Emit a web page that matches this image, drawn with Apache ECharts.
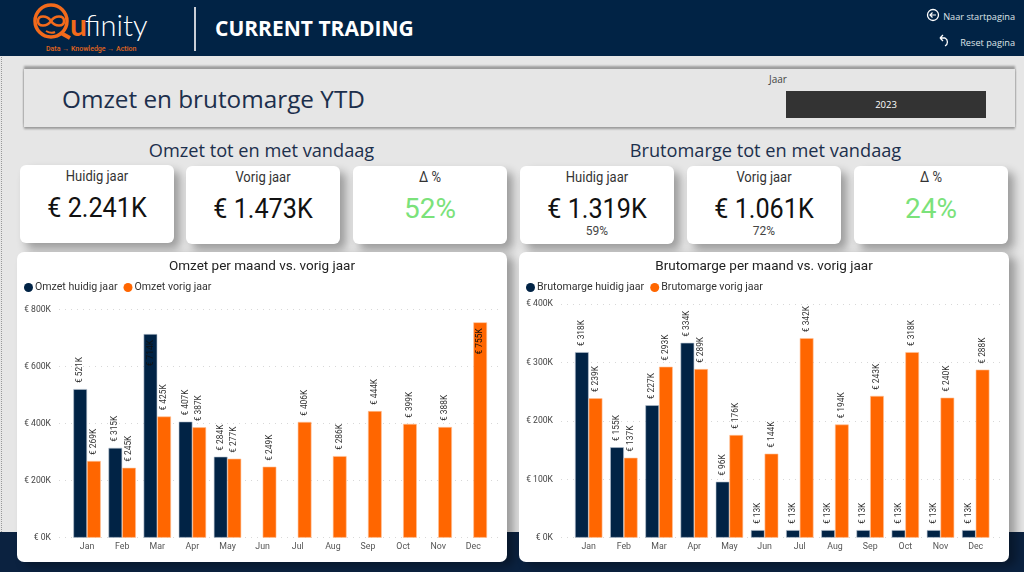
<!DOCTYPE html>
<html>
<head>
<meta charset="utf-8">
<script src="https://cdn.jsdelivr.net/npm/echarts@6/dist/echarts.min.js"></script>
<style>
  html, body { margin: 0; padding: 0; }
  body { width: 1024px; height: 572px; position: relative; overflow: hidden; background: #e6e6e6; font-family: "Open Sans", sans-serif; }
  .abs { position: absolute; white-space: nowrap; }
  #header { left: 0; top: 0; width: 1024px; height: 56px; background: #012345; }
  #footer { left: 0; top: 532px; width: 1024px; height: 40px; background: #0b2240; }
  #edge { left: 1px; top: 57px; height: 475px; border-left: 1px dotted #999; }
  #divider { left: 193.5px; top: 7px; width: 2.5px; height: 44px; background: #c9ced6; }
  #pageTitle { left: 215px; top: 13px; font-size: 21px; font-weight: 700; color: #fff; line-height: 30px; }
  .nav { color: #dfe3e8; font-size: 9.2px; line-height: 14px; right: 9px; }
  #navHome { top: 10px; }
  #navReset { top: 36px; }
  #banner { left: 24px; top: 69px; width: 991px; height: 58px; background: #e6e6e6; box-shadow: 0 -3px 2px #9c9c9c, 0 2px 2px #9c9c9c, -1px 0 1px #d0d0d0, 1px 0 1px #d0d0d0; }
  #mainTitle { left: 62px; top: 82px; font-size: 24.3px; line-height: 34px; color: #1c2f4c; }
  #jaarLabel { left: 769px; top: 72px; font-size: 10px; line-height: 14px; color: #444; }
  #jaarBox { left: 786px; top: 91px; width: 200px; height: 27px; background: #333; color: #fff; font-size: 9.5px; line-height: 28px; text-align: center; }
  .heading { top: 137px; font-size: 18.2px; line-height: 26px; color: #1c2f4c; text-align: center; width: 400px; }
  #headL { left: 61.5px; }
  #headR { left: 565.5px; }
  .card { width: 154px; height: 78px; background: #fff; border-radius: 6px; box-shadow: 6px 6px 10px rgba(0,0,0,.33); top: 166px; font-family: Roboto, sans-serif; text-align: center; }
  .card .lab { position: absolute; left: 0; right: 0; top: 2px; font-size: 14px; line-height: 18px; color: #333; transform: scaleX(.93); }
  .card .val { position: absolute; left: 0; right: 0; top: 23.500px; font-size: 28px; line-height: 38px; color: #111; transform: scaleX(.9); }
  .card .sub { position: absolute; left: 0; right: 0; top: 57px; font-size: 12px; line-height: 16px; color: #444; }
  .card .val.good { color: #7be27a; transform: none; }
  .panel { top: 252px; width: 490px; height: 310px; background: #fff; border-radius: 7px; box-shadow: 7px 4px 10px rgba(0,0,0,.33); }
  #panelL { left: 17px; }
  #panelR { left: 519px; }
</style>
</head>
<body>
<div class="abs" id="header"></div>
<div class="abs" id="footer"></div>
<div class="abs" id="edge"></div>

<svg class="abs" style="left:0;top:0" width="190" height="56">
  <circle cx="51" cy="21" r="16" fill="none" stroke="#f26a1b" stroke-width="3.5"/>
  <path d="M51 21c-4-6-13-6-13 0s9 6 13 0c4-6 13-6 13 0s-9 6-13 0z" fill="none" stroke="#f26a1b" stroke-width="2.5"/>
  <path d="M46 31q5 3 9 1" fill="none" stroke="#f26a1b" stroke-width="2"/>
  <path d="M61 33l9 5" fill="none" stroke="#f26a1b" stroke-width="4"/>
  <text x="70" y="36" font-family="Lato" font-size="30" font-weight="700" fill="#f26a1b">u</text>
  <text x="85" y="36" font-family="Lato" font-size="29" font-weight="300" fill="#fff">finity</text>
  <text x="46" y="51" font-family="Roboto" font-size="7" font-weight="500" fill="#e0651c">Data → Knowledge → Action</text>
</svg>
<div class="abs" id="divider"></div>
<div class="abs" id="pageTitle">CURRENT TRADING</div>

<svg class="abs" style="left:925px;top:6px" width="26" height="48">
  <circle cx="8" cy="9" r="5.5" fill="none" stroke="#fff" stroke-width="1.300"/>
  <path d="M11 9H5.5M7.500 6.500L5 9l2.500 2.500" fill="none" stroke="#fff" stroke-width="1.200"/>
  <path d="M15 32l3-3M15 32l3 3M15 32h5a4.500 4.500 0 0 1 0 8" fill="none" stroke="#fff" stroke-width="1.300"/>
</svg>
<div class="abs nav" id="navHome">Naar startpagina</div>
<div class="abs nav" id="navReset">Reset pagina</div>

<div class="abs" id="banner"></div>
<div class="abs" id="mainTitle">Omzet en brutomarge YTD</div>
<div class="abs" id="jaarLabel">Jaar</div>
<div class="abs" id="jaarBox">2023</div>

<div class="abs heading" id="headL">Omzet tot en met vandaag</div>
<div class="abs heading" id="headR">Brutomarge tot en met vandaag</div>

<div class="abs card" style="left:20px;top:165px"><div class="lab">Huidig jaar</div><div class="val" id="o0"></div></div>
<div class="abs card" style="left:186px"><div class="lab">Vorig jaar</div><div class="val" id="o1"></div></div>
<div class="abs card" style="left:353px"><div class="lab">Δ %</div><div class="val good" id="o2"></div></div>
<div class="abs card" style="left:520px"><div class="lab">Huidig jaar</div><div class="val" id="b0"></div><div class="sub" id="s0"></div></div>
<div class="abs card" style="left:687px"><div class="lab">Vorig jaar</div><div class="val" id="b1"></div><div class="sub" id="s1"></div></div>
<div class="abs card" style="left:854px"><div class="lab">Δ %</div><div class="val good" id="b2"></div></div>

<div class="abs panel" id="panelL"></div>
<div class="abs panel" id="panelR"></div>

<script>
const months = ['Jan', 'Feb', 'Mar', 'Apr', 'May', 'Jun', 'Jul', 'Aug', 'Sep', 'Oct', 'Nov', 'Dec'];

// omzet per maand, in duizend euro
const omzetHuidig = [521, 315, 714, 407, 284, null, null, null, null, null, null, null];
const omzetVorig = [269, 245, 425, 387, 277, 249, 406, 286, 444, 399, 388, 755];

// brutomarge per maand, in duizend euro
const margeHuidig = [318, 155, 227, 334, 96, 13, 13, 13, 13, 13, 13, 13];
const margeVorig = [239, 137, 293, 289, 176, 144, 342, 194, 243, 318, 240, 288];

const omzetKpi = ['€ 2.241K', '€ 1.473K', '52%'];
const margeKpi = ['€ 1.319K', '€ 1.061K', '24%'];
const margePct = ['59%', '72%'];

omzetKpi.forEach((t, i) => { document.getElementById('o' + i).textContent = t; });
margeKpi.forEach((t, i) => { document.getElementById('b' + i).textContent = t; });
margePct.forEach((t, i) => { document.getElementById('s' + i).textContent = t; });

const NAVY = '#012345';
const ORANGE = '#ff6600';
const FONT = 'Roboto';

function barSeries(name, values, color, edge, insideFrom) {
  return {
    name: name,
    type: 'bar',
    xAxisIndex: 1,
    yAxisIndex: 1,
    barWidth: 13.7,
    barGap: 0,
    itemStyle: { color: color, borderColor: edge, borderWidth: 0.6 },
    label: {
      show: true,
      position: 'top',
      distance: 6,
      rotate: 90,
      align: 'left',
      verticalAlign: 'middle',
      fontFamily: FONT,
      fontSize: 8.4,
      color: '#333',
      formatter: p => '€ ' + p.value + 'K',
    },
    // labels that would not fit above the bar go inside it, as Power BI does
    data: values.map(v => (v !== null && v > insideFrom
      ? { value: v, label: { position: 'insideTop', align: 'right', distance: 6, color: '#111' } }
      : v)),
  };
}

function makeChart(el, cfg) {
  const chart = echarts.init(document.getElementById(el));
  chart.setOption({
    animation: false,
    title: {
      text: cfg.title,
      left: 'center',
      top: 3,
      textStyle: { fontFamily: FONT, fontSize: 13.5, fontWeight: 400, color: '#222' },
    },
    legend: {
      left: cfg.legendLeft,
      top: 30,
      icon: 'circle',
      itemWidth: 9,
      itemHeight: 9,
      itemGap: 6,
      padding: 0,
      itemStyle: { borderWidth: 0 },
      textStyle: { fontFamily: FONT, fontSize: 10.6, color: '#333', padding: [0, 0, 0, -3] },
      data: cfg.series.map(s => s.name),
    },
    grid: [
      // outer grid only carries the value labels and the dotted lines
      { left: cfg.lineLeft, width: cfg.lineWidth, top: cfg.top, height: cfg.height },
      { left: cfg.barLeft, width: cfg.barWidth, top: cfg.top, height: cfg.height },
    ],
    xAxis: [
      { gridIndex: 0, type: 'category', data: months, show: false },
      {
        gridIndex: 1,
        type: 'category',
        data: months,
        axisLine: { show: false },
        axisTick: { show: false },
        axisLabel: { fontFamily: FONT, fontSize: 8.8, color: '#555', margin: 5, interval: 0 },
      },
    ],
    yAxis: [
      {
        gridIndex: 0,
        type: 'value',
        min: 0,
        max: cfg.max,
        interval: cfg.interval,
        axisLabel: { fontFamily: FONT, fontSize: 8.6, color: '#444', margin: 8, formatter: v => '€ ' + v + 'K' },
        axisLine: { show: false },
        axisTick: { show: false },
        splitLine: { lineStyle: { color: '#d8d8d8', type: [1, 5], width: 1 } },
      },
      { gridIndex: 1, type: 'value', min: 0, max: cfg.max, interval: cfg.interval, show: false },
    ],
    series: cfg.series,
  });
}

makeChart('panelL', {
  title: 'Omzet per maand vs. vorig jaar',
  legendLeft: 7,
  lineLeft: 42,
  lineWidth: 442,
  barLeft: 52.5,
  barWidth: 421.4,
  top: 57.5,
  height: 228.2,
  max: 800,
  interval: 200,
  series: [
    barSeries('Omzet huidig jaar', omzetHuidig, NAVY, '#b9c4d2', 700),
    barSeries('Omzet vorig jaar', omzetVorig, ORANGE, '#ffc299', 700),
  ],
});

makeChart('panelR', {
  title: 'Brutomarge per maand vs. vorig jaar',
  legendLeft: 7,
  lineLeft: 42,
  lineWidth: 443,
  barLeft: 52.1,
  barWidth: 422.2,
  top: 52.3,
  height: 233.4,
  max: 400,
  interval: 100,
  series: [
    barSeries('Brutomarge huidig jaar', margeHuidig, NAVY, '#b9c4d2', 400),
    barSeries('Brutomarge vorig jaar', margeVorig, ORANGE, '#ffc299', 400),
  ],
});
</script>
</body>
</html>
